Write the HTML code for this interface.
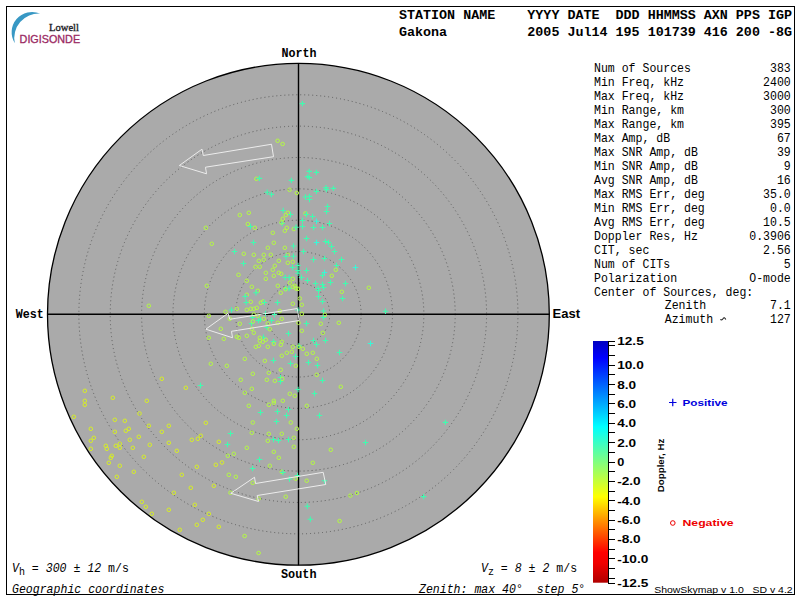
<!DOCTYPE html>
<html><head><meta charset="utf-8">
<style>
html,body{margin:0;padding:0;background:#fff;width:800px;height:600px;overflow:hidden}
svg{position:absolute;left:0;top:0}
.mono{font-family:"Liberation Mono",monospace}
.sans{font-family:"Liberation Sans",sans-serif}
.serif{font-family:"Liberation Serif",serif}
</style></head><body>
<svg width="800" height="600" viewBox="0 0 800 600">
<rect x="6.5" y="6.5" width="788" height="588" fill="#fff" stroke="#000" stroke-width="1"/>
<!-- logo -->
<path d="M40.2 13.6 A20.4 20.4 0 0 0 14.8 43.2 A24.5 24.5 0 0 1 40.2 13.6 Z" fill="#3898c4"/>
<text class="serif" x="49" y="30.9" font-size="11" fill="#222228" stroke="#222228" stroke-width="0.35" textLength="30" lengthAdjust="spacingAndGlyphs">Lowell</text>
<text class="sans" x="19.6" y="43" font-size="10.5" fill="#9b2a63" stroke="#9b2a63" stroke-width="0.3" textLength="60.5" lengthAdjust="spacingAndGlyphs">DIGISONDE</text>
<!-- header -->
<g class="mono" font-weight="bold" font-size="13.2" fill="#000">
<text x="399" y="18.8" xml:space="preserve" textLength="393" lengthAdjust="spacingAndGlyphs">STATION NAME    YYYY DATE  DDD HHMMSS AXN PPS IGP</text>
<text x="399" y="35.5" xml:space="preserve" textLength="393" lengthAdjust="spacingAndGlyphs">Gakona          2005 Jul14 195 101739 416 200 -8G</text>
</g>
<!-- plot -->
<circle cx="298.4" cy="314.3" r="250.9" fill="#aaaaaa" stroke="#000" stroke-width="1.3"/>
<circle cx="298.4" cy="314.3" r="31.36" fill="none" stroke="#5c5c5c" stroke-width="1" stroke-dasharray="1 3"/>
<circle cx="298.4" cy="314.3" r="62.73" fill="none" stroke="#5c5c5c" stroke-width="1" stroke-dasharray="1 3"/>
<circle cx="298.4" cy="314.3" r="94.09" fill="none" stroke="#5c5c5c" stroke-width="1" stroke-dasharray="1 3"/>
<circle cx="298.4" cy="314.3" r="125.45" fill="none" stroke="#5c5c5c" stroke-width="1" stroke-dasharray="1 3"/>
<circle cx="298.4" cy="314.3" r="156.81" fill="none" stroke="#5c5c5c" stroke-width="1" stroke-dasharray="1 3"/>
<circle cx="298.4" cy="314.3" r="188.18" fill="none" stroke="#5c5c5c" stroke-width="1" stroke-dasharray="1 3"/>
<circle cx="298.4" cy="314.3" r="219.54" fill="none" stroke="#5c5c5c" stroke-width="1" stroke-dasharray="1 3"/>
<line x1="47.49999999999997" y1="314.3" x2="549.3" y2="314.3" stroke="#000" stroke-width="1.4"/>
<line x1="298.5" y1="63.400000000000006" x2="298.5" y2="565.2" stroke="#000" stroke-width="1.4"/>
<path d="M299.7 103.6h5.4M302.4 100.9v5.4" stroke="#40fcb0" stroke-width="1.1" fill="none"/>
<circle cx="277.6" cy="140.8" r="1.8" stroke="#b4fa44" stroke-width="1" fill="none"/>
<circle cx="282.6" cy="144.0" r="1.8" stroke="#b4fa44" stroke-width="1" fill="none"/>
<circle cx="256.4" cy="178.8" r="1.8" stroke="#b4fa44" stroke-width="1" fill="none"/>
<path d="M256.7 178.4h5.4M259.4 175.7v5.4" stroke="#40fcb0" stroke-width="1.1" fill="none"/>
<path d="M288.7 180.4h5.4M291.4 177.7v5.4" stroke="#40fcb0" stroke-width="1.1" fill="none"/>
<path d="M306.5 171.4h5.4M309.2 168.7v5.4" stroke="#40fcb0" stroke-width="1.1" fill="none"/>
<path d="M313.7 172.4h5.4M316.4 169.7v5.4" stroke="#40fcb0" stroke-width="1.1" fill="none"/>
<path d="M304.9 176.6h5.4M307.6 173.9v5.4" stroke="#40fcb0" stroke-width="1.1" fill="none"/>
<path d="M306.7 177.6h5.4M309.4 174.9v5.4" stroke="#40fcb0" stroke-width="1.1" fill="none"/>
<circle cx="289.6" cy="189.8" r="1.8" stroke="#b4fa44" stroke-width="1" fill="none"/>
<circle cx="296.8" cy="193.0" r="1.8" stroke="#b4fa44" stroke-width="1" fill="none"/>
<path d="M264.5 192.2h5.4M267.2 189.5v5.4" stroke="#40fcb0" stroke-width="1.1" fill="none"/>
<path d="M268.7 194.4h5.4M271.4 191.7v5.4" stroke="#40fcb0" stroke-width="1.1" fill="none"/>
<path d="M313.7 191.4h5.4M316.4 188.7v5.4" stroke="#40fcb0" stroke-width="1.1" fill="none"/>
<path d="M323.3 187.6h5.4M326.0 184.9v5.4" stroke="#40fcb0" stroke-width="1.1" fill="none"/>
<path d="M323.7 189.6h5.4M326.4 186.9v5.4" stroke="#40fcb0" stroke-width="1.1" fill="none"/>
<path d="M330.7 188.4h5.4M333.4 185.7v5.4" stroke="#40fcb0" stroke-width="1.1" fill="none"/>
<path d="M302.7 197.0h5.4M305.4 194.3v5.4" stroke="#40fcb0" stroke-width="1.1" fill="none"/>
<path d="M306.7 196.4h5.4M309.4 193.7v5.4" stroke="#40fcb0" stroke-width="1.1" fill="none"/>
<circle cx="239.8" cy="215.0" r="1.8" stroke="#b4fa44" stroke-width="1" fill="none"/>
<circle cx="248.8" cy="212.8" r="1.8" stroke="#b4fa44" stroke-width="1" fill="none"/>
<path d="M280.5 210.5h5.4M283.2 207.8v5.4" stroke="#40fcb0" stroke-width="1.1" fill="none"/>
<circle cx="287.8" cy="212.8" r="1.8" stroke="#b4fa44" stroke-width="1" fill="none"/>
<path d="M287.8 214.5h5.4M290.5 211.8v5.4" stroke="#40fcb0" stroke-width="1.1" fill="none"/>
<circle cx="285.8" cy="215.0" r="1.8" stroke="#b4fa44" stroke-width="1" fill="none"/>
<circle cx="282.8" cy="218.8" r="1.8" stroke="#b4fa44" stroke-width="1" fill="none"/>
<path d="M279.5 223.5h5.4M282.2 220.8v5.4" stroke="#40fcb0" stroke-width="1.1" fill="none"/>
<circle cx="281.5" cy="222.5" r="1.8" stroke="#b4fa44" stroke-width="1" fill="none"/>
<circle cx="247.8" cy="224.0" r="1.8" stroke="#b4fa44" stroke-width="1" fill="none"/>
<path d="M247.8 226.5h5.4M250.5 223.8v5.4" stroke="#40fcb0" stroke-width="1.1" fill="none"/>
<circle cx="254.8" cy="227.8" r="1.8" stroke="#b4fa44" stroke-width="1" fill="none"/>
<circle cx="286.8" cy="227.8" r="1.8" stroke="#b4fa44" stroke-width="1" fill="none"/>
<circle cx="284.8" cy="230.8" r="1.8" stroke="#b4fa44" stroke-width="1" fill="none"/>
<circle cx="293.8" cy="229.0" r="1.8" stroke="#b4fa44" stroke-width="1" fill="none"/>
<path d="M293.3 227.2h5.4M296.0 224.5v5.4" stroke="#40fcb0" stroke-width="1.1" fill="none"/>
<circle cx="272.8" cy="232.8" r="1.8" stroke="#b4fa44" stroke-width="1" fill="none"/>
<path d="M250.8 242.5h5.4M253.5 239.8v5.4" stroke="#40fcb0" stroke-width="1.1" fill="none"/>
<circle cx="273.8" cy="242.8" r="1.8" stroke="#b4fa44" stroke-width="1" fill="none"/>
<circle cx="267.8" cy="247.8" r="1.8" stroke="#b4fa44" stroke-width="1" fill="none"/>
<circle cx="284.8" cy="247.8" r="1.8" stroke="#b4fa44" stroke-width="1" fill="none"/>
<path d="M290.8 246.0h5.4M293.5 243.3v5.4" stroke="#40fcb0" stroke-width="1.1" fill="none"/>
<path d="M231.8 251.5h5.4M234.5 248.8v5.4" stroke="#40fcb0" stroke-width="1.1" fill="none"/>
<path d="M306.8 199.5h5.4M309.5 196.8v5.4" stroke="#40fcb0" stroke-width="1.1" fill="none"/>
<path d="M324.8 206.5h5.4M327.5 203.8v5.4" stroke="#40fcb0" stroke-width="1.1" fill="none"/>
<path d="M323.8 211.5h5.4M326.5 208.8v5.4" stroke="#40fcb0" stroke-width="1.1" fill="none"/>
<circle cx="305.5" cy="213.5" r="1.8" stroke="#b4fa44" stroke-width="1" fill="none"/>
<path d="M303.8 214.5h5.4M306.5 211.8v5.4" stroke="#40fcb0" stroke-width="1.1" fill="none"/>
<path d="M309.8 216.5h5.4M312.5 213.8v5.4" stroke="#40fcb0" stroke-width="1.1" fill="none"/>
<path d="M299.8 220.5h5.4M302.5 217.8v5.4" stroke="#40fcb0" stroke-width="1.1" fill="none"/>
<path d="M313.8 221.2h5.4M316.5 218.5v5.4" stroke="#38f8d8" stroke-width="1.1" fill="none"/>
<path d="M326.8 223.5h5.4M329.5 220.8v5.4" stroke="#40fcb0" stroke-width="1.1" fill="none"/>
<path d="M299.8 226.5h5.4M302.5 223.8v5.4" stroke="#40fcb0" stroke-width="1.1" fill="none"/>
<path d="M310.8 227.5h5.4M313.5 224.8v5.4" stroke="#40fcb0" stroke-width="1.1" fill="none"/>
<path d="M319.8 227.5h5.4M322.5 224.8v5.4" stroke="#40fcb0" stroke-width="1.1" fill="none"/>
<path d="M303.8 238.5h5.4M306.5 235.8v5.4" stroke="#40fcb0" stroke-width="1.1" fill="none"/>
<path d="M313.8 242.5h5.4M316.5 239.8v5.4" stroke="#38f8d8" stroke-width="1.1" fill="none"/>
<path d="M322.8 241.5h5.4M325.5 238.8v5.4" stroke="#40fcb0" stroke-width="1.1" fill="none"/>
<path d="M325.8 242.5h5.4M328.5 239.8v5.4" stroke="#40fcb0" stroke-width="1.1" fill="none"/>
<path d="M328.8 246.5h5.4M331.5 243.8v5.4" stroke="#40fcb0" stroke-width="1.1" fill="none"/>
<path d="M331.8 251.5h5.4M334.5 248.8v5.4" stroke="#40fcb0" stroke-width="1.1" fill="none"/>
<path d="M300.8 251.5h5.4M303.5 248.8v5.4" stroke="#40fcb0" stroke-width="1.1" fill="none"/>
<circle cx="253.8" cy="254.8" r="1.8" stroke="#b4fa44" stroke-width="1" fill="none"/>
<circle cx="263.8" cy="254.8" r="1.8" stroke="#b4fa44" stroke-width="1" fill="none"/>
<circle cx="270.8" cy="254.8" r="1.8" stroke="#b4fa44" stroke-width="1" fill="none"/>
<circle cx="287.8" cy="254.8" r="1.8" stroke="#b4fa44" stroke-width="1" fill="none"/>
<path d="M283.3 256.5h5.4M286.0 253.8v5.4" stroke="#40fcb0" stroke-width="1.1" fill="none"/>
<path d="M290.8 256.2h5.4M293.5 253.5v5.4" stroke="#40fcb0" stroke-width="1.1" fill="none"/>
<circle cx="258.8" cy="260.8" r="1.8" stroke="#b4fa44" stroke-width="1" fill="none"/>
<circle cx="263.8" cy="259.8" r="1.8" stroke="#b4fa44" stroke-width="1" fill="none"/>
<circle cx="278.8" cy="260.8" r="1.8" stroke="#b4fa44" stroke-width="1" fill="none"/>
<circle cx="287.8" cy="262.8" r="1.8" stroke="#b4fa44" stroke-width="1" fill="none"/>
<circle cx="292.8" cy="261.8" r="1.8" stroke="#b4fa44" stroke-width="1" fill="none"/>
<path d="M240.8 263.5h5.4M243.5 260.8v5.4" stroke="#40fcb0" stroke-width="1.1" fill="none"/>
<circle cx="255.5" cy="266.8" r="1.8" stroke="#b4fa44" stroke-width="1" fill="none"/>
<circle cx="259.8" cy="266.8" r="1.8" stroke="#b4fa44" stroke-width="1" fill="none"/>
<circle cx="274.8" cy="265.8" r="1.8" stroke="#b4fa44" stroke-width="1" fill="none"/>
<path d="M289.8 267.5h5.4M292.5 264.8v5.4" stroke="#40fcb0" stroke-width="1.1" fill="none"/>
<path d="M295.3 265.5h5.4M298.0 262.8v5.4" stroke="#40fcb0" stroke-width="1.1" fill="none"/>
<circle cx="272.8" cy="269.8" r="1.8" stroke="#b4fa44" stroke-width="1" fill="none"/>
<path d="M295.3 270.5h5.4M298.0 267.8v5.4" stroke="#40fcb0" stroke-width="1.1" fill="none"/>
<circle cx="238.5" cy="274.8" r="1.8" stroke="#b4fa44" stroke-width="1" fill="none"/>
<circle cx="265.8" cy="272.8" r="1.8" stroke="#b4fa44" stroke-width="1" fill="none"/>
<circle cx="278.8" cy="272.8" r="1.8" stroke="#b4fa44" stroke-width="1" fill="none"/>
<circle cx="281.2" cy="273.8" r="1.8" stroke="#b4fa44" stroke-width="1" fill="none"/>
<path d="M295.3 273.2h5.4M298.0 270.5v5.4" stroke="#40fcb0" stroke-width="1.1" fill="none"/>
<circle cx="273.8" cy="275.8" r="1.8" stroke="#b4fa44" stroke-width="1" fill="none"/>
<circle cx="265.8" cy="278.8" r="1.8" stroke="#b4fa44" stroke-width="1" fill="none"/>
<path d="M282.5 277.5h5.4M285.2 274.8v5.4" stroke="#40fcb0" stroke-width="1.1" fill="none"/>
<path d="M286.5 277.5h5.4M289.2 274.8v5.4" stroke="#40fcb0" stroke-width="1.1" fill="none"/>
<circle cx="292.8" cy="278.8" r="1.8" stroke="#b4fa44" stroke-width="1" fill="none"/>
<circle cx="246.8" cy="280.8" r="1.8" stroke="#b4fa44" stroke-width="1" fill="none"/>
<circle cx="289.8" cy="282.8" r="1.8" stroke="#b4fa44" stroke-width="1" fill="none"/>
<circle cx="277.8" cy="285.8" r="1.8" stroke="#b4fa44" stroke-width="1" fill="none"/>
<circle cx="251.8" cy="286.8" r="1.8" stroke="#b4fa44" stroke-width="1" fill="none"/>
<path d="M283.1 288.5h5.4M285.8 285.8v5.4" stroke="#40fcb0" stroke-width="1.1" fill="none"/>
<path d="M286.3 288.5h5.4M289.0 285.8v5.4" stroke="#40fcb0" stroke-width="1.1" fill="none"/>
<circle cx="285.5" cy="289.2" r="1.8" stroke="#b4fa44" stroke-width="1" fill="none"/>
<circle cx="292.8" cy="286.8" r="1.8" stroke="#b4fa44" stroke-width="1" fill="none"/>
<circle cx="294.8" cy="285.8" r="1.8" stroke="#b4fa44" stroke-width="1" fill="none"/>
<circle cx="296.0" cy="288.5" r="1.8" stroke="#b4fa44" stroke-width="1" fill="none"/>
<circle cx="298.0" cy="288.8" r="1.8" stroke="#b4fa44" stroke-width="1" fill="none"/>
<circle cx="257.8" cy="290.8" r="1.8" stroke="#b4fa44" stroke-width="1" fill="none"/>
<path d="M253.3 292.8h5.4M256.0 290.1v5.4" stroke="#40fcb0" stroke-width="1.1" fill="none"/>
<circle cx="280.8" cy="292.8" r="1.8" stroke="#b4fa44" stroke-width="1" fill="none"/>
<circle cx="246.8" cy="294.8" r="1.8" stroke="#b4fa44" stroke-width="1" fill="none"/>
<path d="M242.5 296.5h5.4M245.2 293.8v5.4" stroke="#40fcb0" stroke-width="1.1" fill="none"/>
<path d="M243.5 302.5h5.4M246.2 299.8v5.4" stroke="#40fcb0" stroke-width="1.1" fill="none"/>
<circle cx="250.8" cy="301.8" r="1.8" stroke="#b4fa44" stroke-width="1" fill="none"/>
<circle cx="260.8" cy="302.8" r="1.8" stroke="#b4fa44" stroke-width="1" fill="none"/>
<circle cx="263.2" cy="301.5" r="1.8" stroke="#b4fa44" stroke-width="1" fill="none"/>
<path d="M261.8 302.5h5.4M264.5 299.8v5.4" stroke="#40fcb0" stroke-width="1.1" fill="none"/>
<path d="M274.8 302.5h5.4M277.5 299.8v5.4" stroke="#40fcb0" stroke-width="1.1" fill="none"/>
<circle cx="292.8" cy="303.8" r="1.8" stroke="#b4fa44" stroke-width="1" fill="none"/>
<circle cx="299.8" cy="298.5" r="1.8" stroke="#b4fa44" stroke-width="1" fill="none"/>
<circle cx="236.8" cy="308.8" r="1.8" stroke="#b4fa44" stroke-width="1" fill="none"/>
<path d="M228.8 310.0h5.4M231.5 307.3v5.4" stroke="#40fcb0" stroke-width="1.1" fill="none"/>
<circle cx="246.8" cy="309.8" r="1.8" stroke="#b4fa44" stroke-width="1" fill="none"/>
<circle cx="250.8" cy="308.8" r="1.8" stroke="#b4fa44" stroke-width="1" fill="none"/>
<circle cx="253.8" cy="308.8" r="1.8" stroke="#b4fa44" stroke-width="1" fill="none"/>
<circle cx="256.8" cy="307.8" r="1.8" stroke="#b4fa44" stroke-width="1" fill="none"/>
<circle cx="279.8" cy="311.0" r="1.8" stroke="#b4fa44" stroke-width="1" fill="none"/>
<circle cx="225.5" cy="311.8" r="1.8" stroke="#b4fa44" stroke-width="1" fill="none"/>
<path d="M295.3 310.0h5.4M298.0 307.3v5.4" stroke="#40fcb0" stroke-width="1.1" fill="none"/>
<path d="M310.8 259.5h5.4M313.5 256.8v5.4" stroke="#40fcb0" stroke-width="1.1" fill="none"/>
<path d="M321.8 258.5h5.4M324.5 255.8v5.4" stroke="#40fcb0" stroke-width="1.1" fill="none"/>
<path d="M338.8 259.5h5.4M341.5 256.8v5.4" stroke="#40fcb0" stroke-width="1.1" fill="none"/>
<path d="M333.8 265.5h5.4M336.5 262.8v5.4" stroke="#40fcb0" stroke-width="1.1" fill="none"/>
<circle cx="335.8" cy="269.8" r="1.8" stroke="#b4fa44" stroke-width="1" fill="none"/>
<path d="M352.8 267.5h5.4M355.5 264.8v5.4" stroke="#38f8d8" stroke-width="1.1" fill="none"/>
<path d="M303.8 270.5h5.4M306.5 267.8v5.4" stroke="#40fcb0" stroke-width="1.1" fill="none"/>
<path d="M321.8 272.5h5.4M324.5 269.8v5.4" stroke="#38f8d8" stroke-width="1.1" fill="none"/>
<path d="M319.8 275.5h5.4M322.5 272.8v5.4" stroke="#40fcb0" stroke-width="1.1" fill="none"/>
<circle cx="331.8" cy="275.8" r="1.8" stroke="#b4fa44" stroke-width="1" fill="none"/>
<path d="M298.8 277.5h5.4M301.5 274.8v5.4" stroke="#40fcb0" stroke-width="1.1" fill="none"/>
<path d="M304.8 280.5h5.4M307.5 277.8v5.4" stroke="#40fcb0" stroke-width="1.1" fill="none"/>
<path d="M312.8 283.5h5.4M315.5 280.8v5.4" stroke="#40fcb0" stroke-width="1.1" fill="none"/>
<path d="M319.8 284.5h5.4M322.5 281.8v5.4" stroke="#40fcb0" stroke-width="1.1" fill="none"/>
<path d="M327.8 282.5h5.4M330.5 279.8v5.4" stroke="#40fcb0" stroke-width="1.1" fill="none"/>
<path d="M342.8 283.5h5.4M345.5 280.8v5.4" stroke="#40fcb0" stroke-width="1.1" fill="none"/>
<path d="M320.8 287.5h5.4M323.5 284.8v5.4" stroke="#40fcb0" stroke-width="1.1" fill="none"/>
<path d="M315.3 288.5h5.4M318.0 285.8v5.4" stroke="#40fcb0" stroke-width="1.1" fill="none"/>
<path d="M315.8 290.5h5.4M318.5 287.8v5.4" stroke="#40fcb0" stroke-width="1.1" fill="none"/>
<circle cx="368.8" cy="287.8" r="1.8" stroke="#b4fa44" stroke-width="1" fill="none"/>
<circle cx="341.8" cy="291.8" r="1.8" stroke="#b4fa44" stroke-width="1" fill="none"/>
<path d="M315.8 296.5h5.4M318.5 293.8v5.4" stroke="#40fcb0" stroke-width="1.1" fill="none"/>
<path d="M339.8 298.5h5.4M342.5 295.8v5.4" stroke="#40fcb0" stroke-width="1.1" fill="none"/>
<path d="M319.8 301.5h5.4M322.5 298.8v5.4" stroke="#40fcb0" stroke-width="1.1" fill="none"/>
<circle cx="301.8" cy="304.8" r="1.8" stroke="#b4fa44" stroke-width="1" fill="none"/>
<path d="M320.8 311.0h5.4M323.5 308.3v5.4" stroke="#40fcb0" stroke-width="1.1" fill="none"/>
<path d="M262.8 313.5h5.4M265.5 310.8v5.4" stroke="#40fcb0" stroke-width="1.1" fill="none"/>
<path d="M271.8 314.5h5.4M274.5 311.8v5.4" stroke="#40fcb0" stroke-width="1.1" fill="none"/>
<circle cx="253.8" cy="314.5" r="1.8" stroke="#b4fa44" stroke-width="1" fill="none"/>
<circle cx="257.8" cy="315.8" r="1.8" stroke="#b4fa44" stroke-width="1" fill="none"/>
<circle cx="229.8" cy="318.8" r="1.8" stroke="#b4fa44" stroke-width="1" fill="none"/>
<path d="M249.8 317.5h5.4M252.5 314.8v5.4" stroke="#40fcb0" stroke-width="1.1" fill="none"/>
<path d="M255.8 320.5h5.4M258.5 317.8v5.4" stroke="#40fcb0" stroke-width="1.1" fill="none"/>
<path d="M257.8 319.5h5.4M260.5 316.8v5.4" stroke="#40fcb0" stroke-width="1.1" fill="none"/>
<circle cx="263.8" cy="318.8" r="1.8" stroke="#b4fa44" stroke-width="1" fill="none"/>
<circle cx="281.8" cy="318.8" r="1.8" stroke="#b4fa44" stroke-width="1" fill="none"/>
<path d="M268.8 320.5h5.4M271.5 317.8v5.4" stroke="#40fcb0" stroke-width="1.1" fill="none"/>
<circle cx="239.8" cy="323.8" r="1.8" stroke="#b4fa44" stroke-width="1" fill="none"/>
<path d="M248.8 323.5h5.4M251.5 320.8v5.4" stroke="#40fcb0" stroke-width="1.1" fill="none"/>
<circle cx="252.8" cy="321.5" r="1.8" stroke="#b4fa44" stroke-width="1" fill="none"/>
<circle cx="267.8" cy="323.5" r="1.8" stroke="#b4fa44" stroke-width="1" fill="none"/>
<circle cx="277.8" cy="322.8" r="1.8" stroke="#b4fa44" stroke-width="1" fill="none"/>
<circle cx="298.5" cy="322.8" r="1.8" stroke="#b4fa44" stroke-width="1" fill="none"/>
<circle cx="220.8" cy="328.8" r="1.8" stroke="#b4fa44" stroke-width="1" fill="none"/>
<path d="M264.3 327.5h5.4M267.0 324.8v5.4" stroke="#40fcb0" stroke-width="1.1" fill="none"/>
<circle cx="269.8" cy="329.2" r="1.8" stroke="#b4fa44" stroke-width="1" fill="none"/>
<circle cx="251.8" cy="328.8" r="1.8" stroke="#b4fa44" stroke-width="1" fill="none"/>
<circle cx="253.8" cy="332.8" r="1.8" stroke="#b4fa44" stroke-width="1" fill="none"/>
<path d="M285.8 333.5h5.4M288.5 330.8v5.4" stroke="#40fcb0" stroke-width="1.1" fill="none"/>
<circle cx="223.8" cy="338.8" r="1.8" stroke="#b4fa44" stroke-width="1" fill="none"/>
<circle cx="236.8" cy="336.8" r="1.8" stroke="#b4fa44" stroke-width="1" fill="none"/>
<circle cx="238.8" cy="337.8" r="1.8" stroke="#b4fa44" stroke-width="1" fill="none"/>
<circle cx="246.8" cy="335.8" r="1.8" stroke="#b4fa44" stroke-width="1" fill="none"/>
<path d="M260.8 337.2h5.4M263.5 334.5v5.4" stroke="#40fcb0" stroke-width="1.1" fill="none"/>
<circle cx="259.8" cy="337.8" r="1.8" stroke="#b4fa44" stroke-width="1" fill="none"/>
<circle cx="259.8" cy="340.8" r="1.8" stroke="#b4fa44" stroke-width="1" fill="none"/>
<circle cx="262.8" cy="341.8" r="1.8" stroke="#b4fa44" stroke-width="1" fill="none"/>
<circle cx="265.8" cy="339.8" r="1.8" stroke="#b4fa44" stroke-width="1" fill="none"/>
<path d="M270.8 341.5h5.4M273.5 338.8v5.4" stroke="#40fcb0" stroke-width="1.1" fill="none"/>
<circle cx="273.8" cy="343.8" r="1.8" stroke="#b4fa44" stroke-width="1" fill="none"/>
<circle cx="281.8" cy="341.8" r="1.8" stroke="#b4fa44" stroke-width="1" fill="none"/>
<circle cx="280.8" cy="344.8" r="1.8" stroke="#b4fa44" stroke-width="1" fill="none"/>
<circle cx="255.8" cy="346.8" r="1.8" stroke="#b4fa44" stroke-width="1" fill="none"/>
<circle cx="258.8" cy="345.8" r="1.8" stroke="#b4fa44" stroke-width="1" fill="none"/>
<circle cx="267.8" cy="346.8" r="1.8" stroke="#b4fa44" stroke-width="1" fill="none"/>
<circle cx="292.8" cy="346.8" r="1.8" stroke="#b4fa44" stroke-width="1" fill="none"/>
<path d="M296.3 345.8h5.4M299.0 343.1v5.4" stroke="#40fcb0" stroke-width="1.1" fill="none"/>
<circle cx="281.8" cy="355.8" r="1.8" stroke="#b4fa44" stroke-width="1" fill="none"/>
<circle cx="286.8" cy="352.8" r="1.8" stroke="#b4fa44" stroke-width="1" fill="none"/>
<circle cx="291.8" cy="351.8" r="1.8" stroke="#b4fa44" stroke-width="1" fill="none"/>
<path d="M292.8 356.5h5.4M295.5 353.8v5.4" stroke="#40fcb0" stroke-width="1.1" fill="none"/>
<circle cx="244.8" cy="358.8" r="1.8" stroke="#b4fa44" stroke-width="1" fill="none"/>
<circle cx="264.8" cy="360.8" r="1.8" stroke="#b4fa44" stroke-width="1" fill="none"/>
<path d="M270.8 360.5h5.4M273.5 357.8v5.4" stroke="#40fcb0" stroke-width="1.1" fill="none"/>
<path d="M287.8 363.5h5.4M290.5 360.8v5.4" stroke="#40fcb0" stroke-width="1.1" fill="none"/>
<circle cx="226.8" cy="365.8" r="1.8" stroke="#b4fa44" stroke-width="1" fill="none"/>
<circle cx="295.8" cy="365.8" r="1.8" stroke="#b4fa44" stroke-width="1" fill="none"/>
<circle cx="301.8" cy="313.8" r="1.8" stroke="#b4fa44" stroke-width="1" fill="none"/>
<circle cx="324.8" cy="314.8" r="1.8" stroke="#b4fa44" stroke-width="1" fill="none"/>
<path d="M320.8 317.5h5.4M323.5 314.8v5.4" stroke="#40fcb0" stroke-width="1.1" fill="none"/>
<path d="M303.8 323.5h5.4M306.5 320.8v5.4" stroke="#40fcb0" stroke-width="1.1" fill="none"/>
<circle cx="320.8" cy="323.8" r="1.8" stroke="#b4fa44" stroke-width="1" fill="none"/>
<circle cx="338.8" cy="322.8" r="1.8" stroke="#b4fa44" stroke-width="1" fill="none"/>
<circle cx="301.8" cy="330.8" r="1.8" stroke="#b4fa44" stroke-width="1" fill="none"/>
<circle cx="322.8" cy="332.8" r="1.8" stroke="#b4fa44" stroke-width="1" fill="none"/>
<path d="M310.8 340.5h5.4M313.5 337.8v5.4" stroke="#40fcb0" stroke-width="1.1" fill="none"/>
<path d="M313.8 344.5h5.4M316.5 341.8v5.4" stroke="#40fcb0" stroke-width="1.1" fill="none"/>
<path d="M322.8 340.5h5.4M325.5 337.8v5.4" stroke="#40fcb0" stroke-width="1.1" fill="none"/>
<path d="M367.8 343.5h5.4M370.5 340.8v5.4" stroke="#38f8d8" stroke-width="1.1" fill="none"/>
<circle cx="298.8" cy="346.8" r="1.8" stroke="#b4fa44" stroke-width="1" fill="none"/>
<circle cx="302.8" cy="348.8" r="1.8" stroke="#b4fa44" stroke-width="1" fill="none"/>
<circle cx="306.8" cy="353.8" r="1.8" stroke="#b4fa44" stroke-width="1" fill="none"/>
<circle cx="312.8" cy="352.8" r="1.8" stroke="#b4fa44" stroke-width="1" fill="none"/>
<path d="M336.8 352.5h5.4M339.5 349.8v5.4" stroke="#40fcb0" stroke-width="1.1" fill="none"/>
<circle cx="316.8" cy="358.8" r="1.8" stroke="#b4fa44" stroke-width="1" fill="none"/>
<path d="M305.8 362.5h5.4M308.5 359.8v5.4" stroke="#40fcb0" stroke-width="1.1" fill="none"/>
<path d="M314.8 365.5h5.4M317.5 362.8v5.4" stroke="#40fcb0" stroke-width="1.1" fill="none"/>
<circle cx="280.8" cy="369.8" r="1.8" stroke="#b4fa44" stroke-width="1" fill="none"/>
<circle cx="252.8" cy="373.8" r="1.8" stroke="#b4fa44" stroke-width="1" fill="none"/>
<circle cx="268.8" cy="372.8" r="1.8" stroke="#b4fa44" stroke-width="1" fill="none"/>
<circle cx="240.8" cy="379.8" r="1.8" stroke="#b4fa44" stroke-width="1" fill="none"/>
<circle cx="266.8" cy="379.8" r="1.8" stroke="#b4fa44" stroke-width="1" fill="none"/>
<circle cx="274.8" cy="380.8" r="1.8" stroke="#b4fa44" stroke-width="1" fill="none"/>
<path d="M277.8 377.5h5.4M280.5 374.8v5.4" stroke="#40fcb0" stroke-width="1.1" fill="none"/>
<circle cx="282.2" cy="378.8" r="1.8" stroke="#b4fa44" stroke-width="1" fill="none"/>
<path d="M277.8 381.5h5.4M280.5 378.8v5.4" stroke="#40fcb0" stroke-width="1.1" fill="none"/>
<circle cx="251.8" cy="388.8" r="1.8" stroke="#b4fa44" stroke-width="1" fill="none"/>
<circle cx="244.8" cy="392.8" r="1.8" stroke="#b4fa44" stroke-width="1" fill="none"/>
<path d="M295.3 389.5h5.4M298.0 386.8v5.4" stroke="#40fcb0" stroke-width="1.1" fill="none"/>
<circle cx="289.8" cy="393.8" r="1.8" stroke="#b4fa44" stroke-width="1" fill="none"/>
<circle cx="294.8" cy="395.8" r="1.8" stroke="#b4fa44" stroke-width="1" fill="none"/>
<circle cx="273.8" cy="400.8" r="1.8" stroke="#b4fa44" stroke-width="1" fill="none"/>
<circle cx="273.8" cy="402.8" r="1.8" stroke="#b4fa44" stroke-width="1" fill="none"/>
<circle cx="282.8" cy="400.8" r="1.8" stroke="#b4fa44" stroke-width="1" fill="none"/>
<circle cx="248.8" cy="405.8" r="1.8" stroke="#b4fa44" stroke-width="1" fill="none"/>
<circle cx="268.8" cy="404.8" r="1.8" stroke="#b4fa44" stroke-width="1" fill="none"/>
<path d="M257.8 412.5h5.4M260.5 409.8v5.4" stroke="#40fcb0" stroke-width="1.1" fill="none"/>
<path d="M274.8 411.5h5.4M277.5 408.8v5.4" stroke="#40fcb0" stroke-width="1.1" fill="none"/>
<path d="M285.8 409.5h5.4M288.5 406.8v5.4" stroke="#40fcb0" stroke-width="1.1" fill="none"/>
<path d="M283.8 415.5h5.4M286.5 412.8v5.4" stroke="#40fcb0" stroke-width="1.1" fill="none"/>
<path d="M273.8 421.5h5.4M276.5 418.8v5.4" stroke="#40fcb0" stroke-width="1.1" fill="none"/>
<circle cx="252.8" cy="422.5" r="1.8" stroke="#b4fa44" stroke-width="1" fill="none"/>
<circle cx="290.8" cy="422.5" r="1.8" stroke="#b4fa44" stroke-width="1" fill="none"/>
<circle cx="316.8" cy="374.8" r="1.8" stroke="#b4fa44" stroke-width="1" fill="none"/>
<path d="M319.8 380.5h5.4M322.5 377.8v5.4" stroke="#40fcb0" stroke-width="1.1" fill="none"/>
<circle cx="340.8" cy="386.8" r="1.8" stroke="#b4fa44" stroke-width="1" fill="none"/>
<path d="M311.8 393.5h5.4M314.5 390.8v5.4" stroke="#40fcb0" stroke-width="1.1" fill="none"/>
<circle cx="306.8" cy="405.8" r="1.8" stroke="#b4fa44" stroke-width="1" fill="none"/>
<path d="M316.8 415.5h5.4M319.5 412.8v5.4" stroke="#40fcb0" stroke-width="1.1" fill="none"/>
<circle cx="296.8" cy="428.8" r="1.8" stroke="#b4fa44" stroke-width="1" fill="none"/>
<path d="M227.8 433.5h5.4M230.5 430.8v5.4" stroke="#40fcb0" stroke-width="1.1" fill="none"/>
<circle cx="251.8" cy="432.8" r="1.8" stroke="#b4fa44" stroke-width="1" fill="none"/>
<circle cx="268.8" cy="433.8" r="1.8" stroke="#b4fa44" stroke-width="1" fill="none"/>
<circle cx="281.8" cy="433.8" r="1.8" stroke="#b4fa44" stroke-width="1" fill="none"/>
<circle cx="267.8" cy="440.8" r="1.8" stroke="#b4fa44" stroke-width="1" fill="none"/>
<path d="M270.8 439.5h5.4M273.5 436.8v5.4" stroke="#40fcb0" stroke-width="1.1" fill="none"/>
<path d="M275.8 440.5h5.4M278.5 437.8v5.4" stroke="#40fcb0" stroke-width="1.1" fill="none"/>
<path d="M285.8 439.5h5.4M288.5 436.8v5.4" stroke="#40fcb0" stroke-width="1.1" fill="none"/>
<circle cx="293.8" cy="437.8" r="1.8" stroke="#b4fa44" stroke-width="1" fill="none"/>
<circle cx="218.8" cy="441.8" r="1.8" stroke="#d8f024" stroke-width="1" fill="none"/>
<path d="M224.8 444.5h5.4M227.5 441.8v5.4" stroke="#40fcb0" stroke-width="1.1" fill="none"/>
<circle cx="246.8" cy="447.8" r="1.8" stroke="#b4fa44" stroke-width="1" fill="none"/>
<circle cx="293.8" cy="446.8" r="1.8" stroke="#b4fa44" stroke-width="1" fill="none"/>
<circle cx="273.8" cy="451.8" r="1.8" stroke="#b4fa44" stroke-width="1" fill="none"/>
<circle cx="227.8" cy="455.8" r="1.8" stroke="#b4fa44" stroke-width="1" fill="none"/>
<circle cx="233.8" cy="453.8" r="1.8" stroke="#b4fa44" stroke-width="1" fill="none"/>
<circle cx="278.8" cy="457.8" r="1.8" stroke="#b4fa44" stroke-width="1" fill="none"/>
<path d="M256.8 459.5h5.4M259.5 456.8v5.4" stroke="#40fcb0" stroke-width="1.1" fill="none"/>
<circle cx="215.8" cy="464.8" r="1.8" stroke="#d8f024" stroke-width="1" fill="none"/>
<circle cx="269.8" cy="465.8" r="1.8" stroke="#b4fa44" stroke-width="1" fill="none"/>
<path d="M249.8 468.5h5.4M252.5 465.8v5.4" stroke="#40fcb0" stroke-width="1.1" fill="none"/>
<circle cx="281.8" cy="471.8" r="1.8" stroke="#b4fa44" stroke-width="1" fill="none"/>
<path d="M280.3 472.5h5.4M283.0 469.8v5.4" stroke="#40fcb0" stroke-width="1.1" fill="none"/>
<circle cx="228.8" cy="474.8" r="1.8" stroke="#b4fa44" stroke-width="1" fill="none"/>
<circle cx="235.8" cy="476.8" r="1.8" stroke="#b4fa44" stroke-width="1" fill="none"/>
<path d="M294.8 475.5h5.4M297.5 472.8v5.4" stroke="#40fcb0" stroke-width="1.1" fill="none"/>
<path d="M286.8 479.0h5.4M289.5 476.3v5.4" stroke="#40fcb0" stroke-width="1.1" fill="none"/>
<path d="M362.8 442.5h5.4M365.5 439.8v5.4" stroke="#40fcb0" stroke-width="1.1" fill="none"/>
<circle cx="330.8" cy="449.8" r="1.8" stroke="#b4fa44" stroke-width="1" fill="none"/>
<circle cx="312.8" cy="462.8" r="1.8" stroke="#b4fa44" stroke-width="1" fill="none"/>
<circle cx="295.7" cy="478.7" r="1.8" stroke="#b4fa44" stroke-width="1" fill="none"/>
<circle cx="306.7" cy="480.7" r="1.8" stroke="#b4fa44" stroke-width="1" fill="none"/>
<path d="M321.8 480.7h5.4M324.5 478.0v5.4" stroke="#40fcb0" stroke-width="1.1" fill="none"/>
<circle cx="252.7" cy="482.8" r="1.8" stroke="#b4fa44" stroke-width="1" fill="none"/>
<circle cx="230.5" cy="492.7" r="1.8" stroke="#b4fa44" stroke-width="1" fill="none"/>
<circle cx="258.7" cy="498.7" r="1.8" stroke="#b4fa44" stroke-width="1" fill="none"/>
<circle cx="285.7" cy="496.7" r="1.8" stroke="#b4fa44" stroke-width="1" fill="none"/>
<path d="M304.6 506.2h5.4M307.3 503.5v5.4" stroke="#40fcb0" stroke-width="1.1" fill="none"/>
<path d="M307.6 519.2h5.4M310.3 516.5v5.4" stroke="#40fcb0" stroke-width="1.1" fill="none"/>
<circle cx="339.6" cy="521.0" r="1.8" stroke="#b4fa44" stroke-width="1" fill="none"/>
<circle cx="350.4" cy="495.6" r="1.8" stroke="#b4fa44" stroke-width="1" fill="none"/>
<circle cx="357.0" cy="493.0" r="1.8" stroke="#b4fa44" stroke-width="1" fill="none"/>
<circle cx="244.6" cy="536.0" r="1.8" stroke="#b4fa44" stroke-width="1" fill="none"/>
<circle cx="258.6" cy="553.0" r="1.8" stroke="#b4fa44" stroke-width="1" fill="none"/>
<circle cx="205.8" cy="227.8" r="1.8" stroke="#b4fa44" stroke-width="1" fill="none"/>
<circle cx="211.8" cy="243.8" r="1.8" stroke="#b4fa44" stroke-width="1" fill="none"/>
<circle cx="206.8" cy="285.8" r="1.8" stroke="#b4fa44" stroke-width="1" fill="none"/>
<circle cx="148.8" cy="305.8" r="1.8" stroke="#b4fa44" stroke-width="1" fill="none"/>
<circle cx="208.8" cy="315.8" r="1.8" stroke="#b4fa44" stroke-width="1" fill="none"/>
<circle cx="208.8" cy="337.8" r="1.8" stroke="#b4fa44" stroke-width="1" fill="none"/>
<circle cx="210.8" cy="363.8" r="1.8" stroke="#b4fa44" stroke-width="1" fill="none"/>
<circle cx="161.8" cy="378.8" r="1.8" stroke="#d8f024" stroke-width="1" fill="none"/>
<circle cx="185.8" cy="387.8" r="1.8" stroke="#d8f024" stroke-width="1" fill="none"/>
<path d="M197.8 385.5h5.4M200.5 382.8v5.4" stroke="#40fcb0" stroke-width="1.1" fill="none"/>
<circle cx="146.8" cy="400.8" r="1.8" stroke="#d8f024" stroke-width="1" fill="none"/>
<circle cx="139.5" cy="413.5" r="1.8" stroke="#d8f024" stroke-width="1" fill="none"/>
<circle cx="205.8" cy="422.8" r="1.8" stroke="#d8f024" stroke-width="1" fill="none"/>
<circle cx="148.8" cy="425.8" r="1.8" stroke="#d8f024" stroke-width="1" fill="none"/>
<circle cx="168.8" cy="425.8" r="1.8" stroke="#d8f024" stroke-width="1" fill="none"/>
<circle cx="84.8" cy="390.8" r="1.8" stroke="#d8f024" stroke-width="1" fill="none"/>
<circle cx="84.8" cy="400.8" r="1.8" stroke="#d8f024" stroke-width="1" fill="none"/>
<circle cx="84.8" cy="404.8" r="1.8" stroke="#d8f024" stroke-width="1" fill="none"/>
<circle cx="112.8" cy="397.8" r="1.8" stroke="#d8f024" stroke-width="1" fill="none"/>
<circle cx="73.8" cy="416.8" r="1.8" stroke="#d8f024" stroke-width="1" fill="none"/>
<circle cx="114.8" cy="419.8" r="1.8" stroke="#d8f024" stroke-width="1" fill="none"/>
<circle cx="124.8" cy="420.8" r="1.8" stroke="#d8f024" stroke-width="1" fill="none"/>
<circle cx="90.8" cy="428.8" r="1.8" stroke="#d8f024" stroke-width="1" fill="none"/>
<circle cx="114.8" cy="431.8" r="1.8" stroke="#d8f024" stroke-width="1" fill="none"/>
<circle cx="125.8" cy="430.8" r="1.8" stroke="#d8f024" stroke-width="1" fill="none"/>
<circle cx="128.8" cy="428.8" r="1.8" stroke="#d8f024" stroke-width="1" fill="none"/>
<circle cx="138.8" cy="436.8" r="1.8" stroke="#d8f024" stroke-width="1" fill="none"/>
<circle cx="93.8" cy="437.8" r="1.8" stroke="#d8f024" stroke-width="1" fill="none"/>
<circle cx="90.8" cy="440.8" r="1.8" stroke="#d8f024" stroke-width="1" fill="none"/>
<circle cx="129.8" cy="439.8" r="1.8" stroke="#d8f024" stroke-width="1" fill="none"/>
<circle cx="105.8" cy="445.8" r="1.8" stroke="#d8f024" stroke-width="1" fill="none"/>
<circle cx="106.8" cy="448.8" r="1.8" stroke="#d8f024" stroke-width="1" fill="none"/>
<circle cx="90.8" cy="448.8" r="1.8" stroke="#d8f024" stroke-width="1" fill="none"/>
<circle cx="115.8" cy="445.8" r="1.8" stroke="#d8f024" stroke-width="1" fill="none"/>
<circle cx="119.8" cy="443.8" r="1.8" stroke="#d8f024" stroke-width="1" fill="none"/>
<circle cx="119.8" cy="447.8" r="1.8" stroke="#d8f024" stroke-width="1" fill="none"/>
<circle cx="132.8" cy="447.8" r="1.8" stroke="#d8f024" stroke-width="1" fill="none"/>
<circle cx="111.8" cy="455.8" r="1.8" stroke="#d8f024" stroke-width="1" fill="none"/>
<circle cx="110.8" cy="457.8" r="1.8" stroke="#d8f024" stroke-width="1" fill="none"/>
<circle cx="108.8" cy="462.8" r="1.8" stroke="#d8f024" stroke-width="1" fill="none"/>
<circle cx="119.8" cy="465.8" r="1.8" stroke="#d8f024" stroke-width="1" fill="none"/>
<circle cx="133.8" cy="471.8" r="1.8" stroke="#d8f024" stroke-width="1" fill="none"/>
<circle cx="116.8" cy="476.8" r="1.8" stroke="#d8f024" stroke-width="1" fill="none"/>
<circle cx="161.8" cy="431.8" r="1.8" stroke="#d8f024" stroke-width="1" fill="none"/>
<circle cx="200.8" cy="435.8" r="1.8" stroke="#d8f024" stroke-width="1" fill="none"/>
<circle cx="197.8" cy="438.8" r="1.8" stroke="#d8f024" stroke-width="1" fill="none"/>
<circle cx="191.8" cy="439.8" r="1.8" stroke="#d8f024" stroke-width="1" fill="none"/>
<circle cx="149.8" cy="444.8" r="1.8" stroke="#d8f024" stroke-width="1" fill="none"/>
<circle cx="168.8" cy="442.8" r="1.8" stroke="#d8f024" stroke-width="1" fill="none"/>
<circle cx="176.8" cy="450.8" r="1.8" stroke="#d8f024" stroke-width="1" fill="none"/>
<circle cx="143.8" cy="456.8" r="1.8" stroke="#d8f024" stroke-width="1" fill="none"/>
<circle cx="196.8" cy="466.8" r="1.8" stroke="#d8f024" stroke-width="1" fill="none"/>
<circle cx="181.8" cy="474.8" r="1.8" stroke="#d8f024" stroke-width="1" fill="none"/>
<circle cx="173.8" cy="492.8" r="1.8" stroke="#d8f024" stroke-width="1" fill="none"/>
<circle cx="141.8" cy="501.8" r="1.8" stroke="#d8f024" stroke-width="1" fill="none"/>
<circle cx="145.8" cy="506.8" r="1.8" stroke="#d8f024" stroke-width="1" fill="none"/>
<circle cx="151.8" cy="513.8" r="1.8" stroke="#d8f024" stroke-width="1" fill="none"/>
<circle cx="168.8" cy="509.8" r="1.8" stroke="#d8f024" stroke-width="1" fill="none"/>
<circle cx="179.8" cy="529.8" r="1.8" stroke="#d8f024" stroke-width="1" fill="none"/>
<circle cx="213.8" cy="485.8" r="1.8" stroke="#d8f024" stroke-width="1" fill="none"/>
<circle cx="190.8" cy="487.8" r="1.8" stroke="#d8f024" stroke-width="1" fill="none"/>
<circle cx="194.8" cy="504.8" r="1.8" stroke="#d8f024" stroke-width="1" fill="none"/>
<circle cx="208.8" cy="513.8" r="1.8" stroke="#d8f024" stroke-width="1" fill="none"/>
<circle cx="202.8" cy="519.8" r="1.8" stroke="#d8f024" stroke-width="1" fill="none"/>
<circle cx="196.8" cy="524.8" r="1.8" stroke="#d8f024" stroke-width="1" fill="none"/>
<circle cx="218.8" cy="526.8" r="1.8" stroke="#d8f024" stroke-width="1" fill="none"/>
<path d="M442.7 422.4h5.4M445.4 419.7v5.4" stroke="#40fcb0" stroke-width="1.1" fill="none"/>
<path d="M420.9 496.6h5.4M423.6 493.9v5.4" stroke="#40fcb0" stroke-width="1.1" fill="none"/>
<path d="M382.8 311.3h5.4M385.5 308.6v5.4" stroke="#40fcb0" stroke-width="1.1" fill="none"/>
<circle cx="243.8" cy="253.8" r="1.8" stroke="#b4fa44" stroke-width="1" fill="none"/>
<circle cx="222.0" cy="462.5" r="1.8" stroke="#d8f024" stroke-width="1" fill="none"/>
<polygon points="179.3,165.5 202,149.2 203.3,155.5 271.5,144.25 273.5,156.7 205.5,167.2 206.5,173.8" fill="none" stroke="#ececec" stroke-width="1"/>
<polygon points="205.8,329.2 228,313.3 229.8,319.3 297.3,308.5 299.2,320.5 231.5,331.3 232.5,337.75" fill="none" stroke="#ececec" stroke-width="1"/>
<polygon points="230.8,493.3 254.5,477.25 255.5,483.5 323.2,472.3 325.75,484.5 257.2,495.5 258.5,501.5" fill="none" stroke="#ececec" stroke-width="1"/>
<g class="mono" font-weight="bold" font-size="13.2" fill="#000">
<text x="281.5" y="56.8" textLength="35" lengthAdjust="spacingAndGlyphs">North</text>
<text x="15.8" y="318" textLength="28" lengthAdjust="spacingAndGlyphs">West</text>
<text x="281" y="578" textLength="35.5" lengthAdjust="spacingAndGlyphs">South</text>
</g>
<text class="sans" font-weight="bold" font-size="13" x="552.5" y="317.8">East</text>
<!-- stats -->
<g class="mono" font-size="11.55" fill="#000">
<text x="594" y="0" transform="translate(0,72.00) scale(1,1.12)" xml:space="preserve">Num of Sources</text>
<text x="790.8" y="0" transform="translate(0,72.00) scale(1,1.12)" text-anchor="end">383</text>
<text x="594" y="0" transform="translate(0,85.97) scale(1,1.12)" xml:space="preserve">Min Freq, kHz</text>
<text x="790.8" y="0" transform="translate(0,85.97) scale(1,1.12)" text-anchor="end">2400</text>
<text x="594" y="0" transform="translate(0,99.94) scale(1,1.12)" xml:space="preserve">Max Freq, kHz</text>
<text x="790.8" y="0" transform="translate(0,99.94) scale(1,1.12)" text-anchor="end">3000</text>
<text x="594" y="0" transform="translate(0,113.91) scale(1,1.12)" xml:space="preserve">Min Range, km</text>
<text x="790.8" y="0" transform="translate(0,113.91) scale(1,1.12)" text-anchor="end">300</text>
<text x="594" y="0" transform="translate(0,127.88) scale(1,1.12)" xml:space="preserve">Max Range, km</text>
<text x="790.8" y="0" transform="translate(0,127.88) scale(1,1.12)" text-anchor="end">395</text>
<text x="594" y="0" transform="translate(0,141.85) scale(1,1.12)" xml:space="preserve">Max Amp, dB</text>
<text x="790.8" y="0" transform="translate(0,141.85) scale(1,1.12)" text-anchor="end">67</text>
<text x="594" y="0" transform="translate(0,155.82) scale(1,1.12)" xml:space="preserve">Max SNR Amp, dB</text>
<text x="790.8" y="0" transform="translate(0,155.82) scale(1,1.12)" text-anchor="end">39</text>
<text x="594" y="0" transform="translate(0,169.79) scale(1,1.12)" xml:space="preserve">Min SNR Amp, dB</text>
<text x="790.8" y="0" transform="translate(0,169.79) scale(1,1.12)" text-anchor="end">9</text>
<text x="594" y="0" transform="translate(0,183.76) scale(1,1.12)" xml:space="preserve">Avg SNR Amp, dB</text>
<text x="790.8" y="0" transform="translate(0,183.76) scale(1,1.12)" text-anchor="end">16</text>
<text x="594" y="0" transform="translate(0,197.73) scale(1,1.12)" xml:space="preserve">Max RMS Err, deg</text>
<text x="790.8" y="0" transform="translate(0,197.73) scale(1,1.12)" text-anchor="end">35.0</text>
<text x="594" y="0" transform="translate(0,211.70) scale(1,1.12)" xml:space="preserve">Min RMS Err, deg</text>
<text x="790.8" y="0" transform="translate(0,211.70) scale(1,1.12)" text-anchor="end">0.0</text>
<text x="594" y="0" transform="translate(0,225.67) scale(1,1.12)" xml:space="preserve">Avg RMS Err, deg</text>
<text x="790.8" y="0" transform="translate(0,225.67) scale(1,1.12)" text-anchor="end">10.5</text>
<text x="594" y="0" transform="translate(0,239.64) scale(1,1.12)" xml:space="preserve">Doppler Res, Hz</text>
<text x="790.8" y="0" transform="translate(0,239.64) scale(1,1.12)" text-anchor="end">0.3906</text>
<text x="594" y="0" transform="translate(0,253.61) scale(1,1.12)" xml:space="preserve">CIT, sec</text>
<text x="790.8" y="0" transform="translate(0,253.61) scale(1,1.12)" text-anchor="end">2.56</text>
<text x="594" y="0" transform="translate(0,267.58) scale(1,1.12)" xml:space="preserve">Num of CITs</text>
<text x="790.8" y="0" transform="translate(0,267.58) scale(1,1.12)" text-anchor="end">5</text>
<text x="594" y="0" transform="translate(0,281.55) scale(1,1.12)" xml:space="preserve">Polarization</text>
<text x="790.8" y="0" transform="translate(0,281.55) scale(1,1.12)" text-anchor="end">O-mode</text>
<text x="594" y="0" transform="translate(0,295.52) scale(1,1.12)" xml:space="preserve">Center of Sources, deg:</text>
<text x="595.5" y="0" transform="translate(0,309.49) scale(1,1.12)" xml:space="preserve">          Zenith</text>
<text x="790.8" y="0" transform="translate(0,309.49) scale(1,1.12)" text-anchor="end">7.1</text>
<text x="595.5" y="0" transform="translate(0,323.46) scale(1,1.12)" xml:space="preserve">          Azimuth</text>
<text x="790.8" y="0" transform="translate(0,323.46) scale(1,1.12)" text-anchor="end">127</text>
</g>
<path d="M720.3 319.6 Q722.3 320.6 723.2 318.4 Q724.3 316.6 725.8 319.4" stroke="#222" stroke-width="1.1" fill="none"/>
<!-- colorbar -->
<defs><linearGradient id="jet" x1="0" y1="0" x2="0" y2="1">
<stop offset="0" stop-color="#0000c0"/><stop offset="0.07" stop-color="#0000ff"/><stop offset="0.355" stop-color="#00ffff"/>
<stop offset="0.645" stop-color="#ffff00"/><stop offset="0.875" stop-color="#ff0000"/><stop offset="0.92" stop-color="#f00000"/><stop offset="1" stop-color="#b00000"/>
</linearGradient></defs>
<rect x="593" y="341" width="15" height="241.7" fill="url(#jet)"/>
<line x1="608.5" y1="341" x2="608.5" y2="583" stroke="#000" stroke-width="1"/>
<g class="sans" font-weight="bold" font-size="11" fill="#000">
<line x1="608" y1="341.5" x2="615" y2="341.5" stroke="#000" stroke-width="1"/>
<line x1="608" y1="345.5" x2="615" y2="345.5" stroke="#000" stroke-width="1"/>
<line x1="608" y1="355.5" x2="615" y2="355.5" stroke="#000" stroke-width="1"/>
<line x1="608" y1="365.5" x2="615" y2="365.5" stroke="#000" stroke-width="1"/>
<line x1="608" y1="374.5" x2="615" y2="374.5" stroke="#000" stroke-width="1"/>
<line x1="608" y1="384.5" x2="615" y2="384.5" stroke="#000" stroke-width="1"/>
<line x1="608" y1="394.5" x2="615" y2="394.5" stroke="#000" stroke-width="1"/>
<line x1="608" y1="403.5" x2="615" y2="403.5" stroke="#000" stroke-width="1"/>
<line x1="608" y1="413.5" x2="615" y2="413.5" stroke="#000" stroke-width="1"/>
<line x1="608" y1="423.5" x2="615" y2="423.5" stroke="#000" stroke-width="1"/>
<line x1="608" y1="432.5" x2="615" y2="432.5" stroke="#000" stroke-width="1"/>
<line x1="608" y1="442.5" x2="615" y2="442.5" stroke="#000" stroke-width="1"/>
<line x1="608" y1="452.5" x2="615" y2="452.5" stroke="#000" stroke-width="1"/>
<line x1="608" y1="462.5" x2="615" y2="462.5" stroke="#000" stroke-width="1"/>
<line x1="608" y1="471.5" x2="615" y2="471.5" stroke="#000" stroke-width="1"/>
<line x1="608" y1="481.5" x2="615" y2="481.5" stroke="#000" stroke-width="1"/>
<line x1="608" y1="491.5" x2="615" y2="491.5" stroke="#000" stroke-width="1"/>
<line x1="608" y1="500.5" x2="615" y2="500.5" stroke="#000" stroke-width="1"/>
<line x1="608" y1="510.5" x2="615" y2="510.5" stroke="#000" stroke-width="1"/>
<line x1="608" y1="520.5" x2="615" y2="520.5" stroke="#000" stroke-width="1"/>
<line x1="608" y1="529.5" x2="615" y2="529.5" stroke="#000" stroke-width="1"/>
<line x1="608" y1="539.5" x2="615" y2="539.5" stroke="#000" stroke-width="1"/>
<line x1="608" y1="549.5" x2="615" y2="549.5" stroke="#000" stroke-width="1"/>
<line x1="608" y1="558.5" x2="615" y2="558.5" stroke="#000" stroke-width="1"/>
<line x1="608" y1="568.5" x2="615" y2="568.5" stroke="#000" stroke-width="1"/>
<line x1="608" y1="578.5" x2="615" y2="578.5" stroke="#000" stroke-width="1"/>
<line x1="608" y1="583.5" x2="615" y2="583.5" stroke="#000" stroke-width="1"/>
<text x="617.2" y="345.00" textLength="26.55" lengthAdjust="spacingAndGlyphs">12.5</text>
<text x="617.2" y="369.20" textLength="26.55" lengthAdjust="spacingAndGlyphs">10.0</text>
<text x="617.2" y="388.56" textLength="18.89" lengthAdjust="spacingAndGlyphs">8.0</text>
<text x="617.2" y="407.92" textLength="18.89" lengthAdjust="spacingAndGlyphs">6.0</text>
<text x="617.2" y="427.28" textLength="18.89" lengthAdjust="spacingAndGlyphs">4.0</text>
<text x="617.2" y="446.64" textLength="18.89" lengthAdjust="spacingAndGlyphs">2.0</text>
<text x="617.2" y="466.00" textLength="7.06" lengthAdjust="spacingAndGlyphs">0</text>
<text x="617.2" y="485.36" textLength="23.46" lengthAdjust="spacingAndGlyphs">-2.0</text>
<text x="617.2" y="504.72" textLength="23.46" lengthAdjust="spacingAndGlyphs">-4.0</text>
<text x="617.2" y="524.08" textLength="23.46" lengthAdjust="spacingAndGlyphs">-6.0</text>
<text x="617.2" y="543.44" textLength="23.46" lengthAdjust="spacingAndGlyphs">-8.0</text>
<text x="617.2" y="562.80" textLength="31.11" lengthAdjust="spacingAndGlyphs">-10.0</text>
<text x="617.2" y="587.00" textLength="31.11" lengthAdjust="spacingAndGlyphs">-12.5</text>
</g>
<text class="sans" font-weight="bold" font-size="9" fill="#000" transform="translate(664.3,492.2) rotate(-90)" textLength="53.5" lengthAdjust="spacingAndGlyphs">Doppler, Hz</text>
<path d="M669 402.5h7.5M672.75 398.8v7.5" stroke="#0000dd" stroke-width="1.2"/>
<text class="sans" font-weight="bold" font-size="9.8" fill="#0000dd" x="682.5" y="406.2" textLength="45" lengthAdjust="spacingAndGlyphs">Positive</text>
<circle cx="672.8" cy="523" r="2.3" fill="none" stroke="#ee0000" stroke-width="1"/>
<text class="sans" font-weight="bold" font-size="9.8" fill="#ee0000" x="682.5" y="526.2" textLength="51" lengthAdjust="spacingAndGlyphs">Negative</text>
<text class="sans" font-size="9.2" fill="#000" x="654.2" y="592.8" xml:space="preserve" textLength="138.5" lengthAdjust="spacingAndGlyphs">ShowSkymap v 1.0   SD v 4.2</text>
<!-- bottom -->
<g class="mono" font-style="italic" font-size="11.55" fill="#000">
<text x="12" y="0" transform="translate(0,572) scale(1,1.16)" xml:space="preserve">V<tspan dy="3" font-size="10" font-style="normal">h</tspan><tspan dy="-3"> = 300 </tspan><tspan font-style="normal">±</tspan> 12 <tspan font-style="normal">m/s</tspan></text>
<text x="12" y="0" transform="translate(0,592.6) scale(1,1.16)" xml:space="preserve">Geographic coordinates</text>
<text x="481" y="0" transform="translate(0,572) scale(1,1.16)" xml:space="preserve">V<tspan dy="3" font-size="10" font-style="normal">z</tspan><tspan dy="-3"> = 8 </tspan><tspan font-style="normal">±</tspan> 2 <tspan font-style="normal">m/s</tspan></text>
<text x="419" y="0" transform="translate(0,592.6) scale(1,1.16)" xml:space="preserve">Zenith: max 40°  step 5°</text>
</g>
</svg>
</body></html>
